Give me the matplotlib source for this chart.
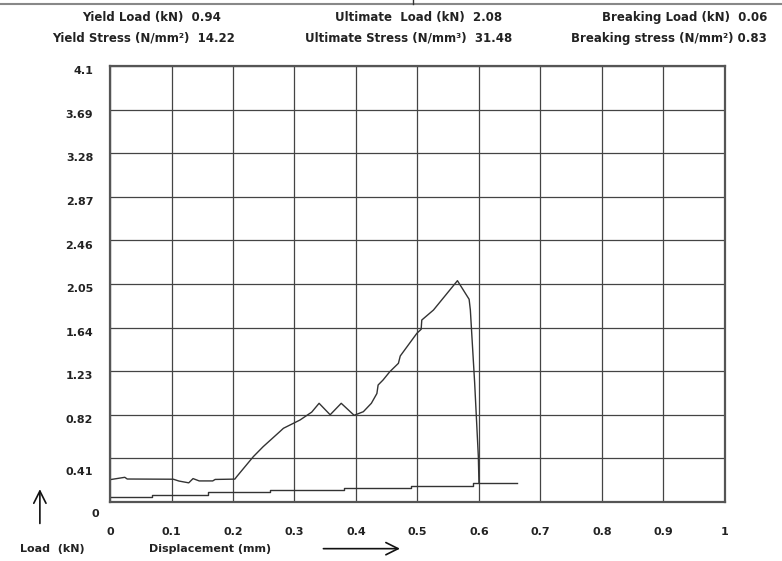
import numpy as np
from matplotlib import pyplot as plt
import matplotlib.transforms as mtransforms

# load - displacement curve
disp = [0.0, 0.024, 0.028, 0.103, 0.112, 0.128, 0.135, 0.145, 0.167, 0.171, 0.203,
        0.206, 0.233, 0.249, 0.276, 0.282, 0.309, 0.328, 0.340, 0.358, 0.376,
        0.397, 0.412, 0.425, 0.434, 0.436, 0.444, 0.455, 0.469, 0.472, 0.499,
        0.506, 0.507, 0.526, 0.565, 0.584, 0.586, 0.593, 0.599, 0.600]
load = [0.21, 0.232, 0.216, 0.214, 0.197, 0.18, 0.22, 0.198, 0.198, 0.212, 0.215,
        0.238, 0.426, 0.52, 0.661, 0.693, 0.771, 0.845, 0.928, 0.82, 0.928,
        0.815, 0.849, 0.928, 1.02, 1.10, 1.147, 1.225, 1.304, 1.373, 1.586,
        1.624, 1.711, 1.805, 2.081, 1.906, 1.805, 1.12, 0.426, 0.176]

# lower, stepped line
base_x = [0.0, 0.068, 0.068, 0.16, 0.16, 0.26, 0.26, 0.38, 0.38, 0.49, 0.49, 0.59, 0.59, 0.662]
base_y = [0.045, 0.045, 0.07, 0.07, 0.095, 0.095, 0.115, 0.115, 0.13, 0.13, 0.15, 0.15, 0.178, 0.178]

yticks = [0, 0.41, 0.82, 1.23, 1.64, 2.05, 2.46, 2.87, 3.28, 3.69, 4.1]
xticks = [0, 0.1, 0.2, 0.3, 0.4, 0.5, 0.6, 0.7, 0.8, 0.9, 1]
xticklabels = ['0', '0.1', '0.2', '0.3', '0.4', '0.5', '0.6', '0.7', '0.8', '0.9', '1']

header = [
    ("Yield Load (kN)  0.94", 0.282, 0.969),
    ("Ultimate  Load (kN)  2.08", 0.642, 0.969),
    ("Breaking Load (kN)  0.06", 0.981, 0.969),
    ("Yield Stress (N/mm\u00b2)  14.22", 0.301, 0.932),
    ("Ultimate Stress (N/mm\u00b3)  31.48", 0.655, 0.932),
    ("Breaking stress (N/mm\u00b2) 0.83", 0.981, 0.932),
]

plt.rcParams['font.family'] = 'DejaVu Sans'
txt = '#222222'

fig = plt.figure(figsize=(7.82, 5.61), dpi=100)
ax = fig.add_axes([0.1407, 0.1052, 0.7863, 0.7772])

ax.plot(disp, load, color='#333333', lw=1.0)
ax.plot(base_x, base_y, color='#333333', lw=1.0)

ax.set_xlim(0, 1)
ax.set_ylim(0, 4.1)
ax.set_xticks(xticks)
ax.set_xticklabels(xticklabels)
ax.set_yticks(yticks)
ax.set_yticklabels([str(v) for v in yticks])
ax.grid(True, color='#444444', lw=0.9)
ax.tick_params(length=0, labelsize=8, colors=txt)
ax.tick_params(axis='x', pad=18)
ax.tick_params(axis='y', pad=12)
for lab in ax.get_xticklabels() + ax.get_yticklabels():
    lab.set_fontweight('bold')

# y labels sit a little below their grid lines, the lowest two further down
ylabs = ax.get_yticklabels()
for i, lab in enumerate(ylabs):
    dy = -3 / 72.
    dx = 0
    if i == 1:
        dy = -9 / 72.
    if i == 0:
        dy = -8 / 72.
        dx = 4 / 72.
    lab.set_transform(lab.get_transform() + mtransforms.ScaledTranslation(dx, dy, fig.dpi_scale_trans))

for sp in ax.spines.values():
    sp.set_color('#555555')
    sp.set_linewidth(1.6)

for s, x, y in header:
    fig.text(x, y, s, ha='right', va='center', fontsize=8.5, fontweight='bold', color=txt)

# line and mark across the top
fig.add_artist(plt.Line2D([0, 1], [0.992, 0.992], color='#888888', lw=1.5))
fig.add_artist(plt.Line2D([0.528, 0.528], [0.992, 1.0], color='#333333', lw=1))

# axis names and arrows
fig.text(0.026, 0.022, "Load  (kN)", ha='left', va='center', fontsize=8, fontweight='bold', color=txt)
fig.text(0.19, 0.022, "Displacement (mm)", ha='left', va='center', fontsize=8, fontweight='bold', color=txt)
ax.annotate('', xy=(0.051, 0.133), xytext=(0.051, 0.062), xycoords='figure fraction',
            arrowprops=dict(arrowstyle='->', color='#111111', lw=1.2, mutation_scale=22))
ax.annotate('', xy=(0.515, 0.022), xytext=(0.41, 0.022), xycoords='figure fraction',
            arrowprops=dict(arrowstyle='->', color='#111111', lw=1.2, mutation_scale=22))

fig.savefig('out.png', dpi=100)
